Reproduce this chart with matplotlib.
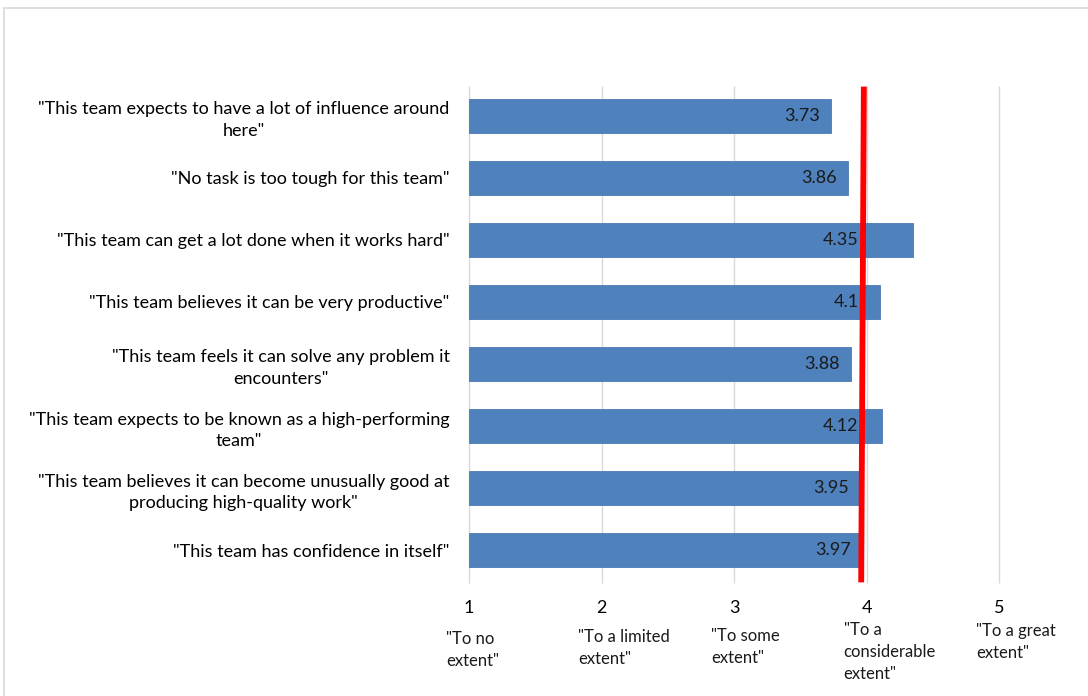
import matplotlib
matplotlib.use("Agg")
import matplotlib.pyplot as plt
from matplotlib.patches import Rectangle

plt.rcParams["font.family"] = ["Lato", "DejaVu Sans"]

statements = [
    '"This team has confidence in itself"',
    '"This team believes it can become unusually good at\nproducing high-quality work"',
    '"This team expects to be known as a high-performing\nteam"',
    '"This team feels it can solve any problem it\nencounters"',
    '"This team believes it can be very productive"',
    '"This team can get a lot done when it works hard"',
    '"No task is too tough for this team"',
    '"This team expects to have a lot of influence around\nhere"',
]
scores = [3.97, 3.95, 4.12, 3.88, 4.1, 4.35, 3.86, 3.73]
score_labels = ["3.97", "3.95", "4.12", "3.88", "4.1", "4.35", "3.86", "3.73"]
reference_score = 3.97
scale_ticks = [1, 2, 3, 4, 5]
scale_names = ['"To no\nextent"', '"To a limited\nextent"', '"To some\nextent"',
               '"To a\nconsiderable\nextent"', '"To a great\nextent"']

W, H = 1088, 696
fig = plt.figure(figsize=(W / 100, H / 100), dpi=100)
# light frame around the chart area
fig.patches.append(Rectangle((4 / W, -0.1), 1, 1.1 - 8 / H, transform=fig.transFigure,
                             fill=False, edgecolor="#d9d9d9", linewidth=1.2))

ax = fig.add_axes([469 / W, 1 - 583 / H, (999 - 469) / W, (583 - 86) / H])
ypos = list(range(len(scores)))

ax.set_xlim(1, 5)
ax.set_ylim(-0.53, 7.48)
ax.vlines(scale_ticks, -0.53, 7.48, color="#d9d9d9", linewidth=1, zorder=0, clip_on=False)

bars = ax.barh(ypos, [s - 1 for s in scores], left=1, height=0.55, color="#4f81bd",
               edgecolor="#4a7ab5", linewidth=0.6, zorder=2)
# value labels sit inside the bar end, but never past the marker line
for b, s, lab in zip(bars, scores, score_labels):
    ax.text(min(s - 0.085, 3.94), b.get_y() + b.get_height() / 2, lab, ha="right",
            va="center", fontsize=13, color="#1a1a1a", zorder=3)

# hand-drawn marker line
ax.plot([reference_score + 0.01, reference_score - 0.01], [7.47, -0.52], color="#ff0000",
        linewidth=4.2, zorder=4, solid_capstyle="butt", clip_on=False)

ax.set_xticks(scale_ticks)
ax.set_xticklabels([str(t) for t in scale_ticks], fontsize=13)
ax.tick_params(axis="x", length=0, pad=12)
ax.set_yticks(ypos)
ax.set_yticklabels(statements, fontsize=13, ha="right", multialignment="center",
                   linespacing=1.45)
ax.tick_params(axis="y", length=0, pad=14)
for sp in ax.spines.values():
    sp.set_visible(False)

name_tops = [631, 629, 628, 622, 623]
for t, name, top in zip(scale_ticks, scale_names, name_tops):
    x = ax.transData.transform((t, 0))[0] - 23
    fig.text(x / W, 1 - top / H, name, ha="left", va="top", fontsize=12,
             linespacing=1.45, color="#1a1a1a")

fig.savefig("out.png", dpi=100)
